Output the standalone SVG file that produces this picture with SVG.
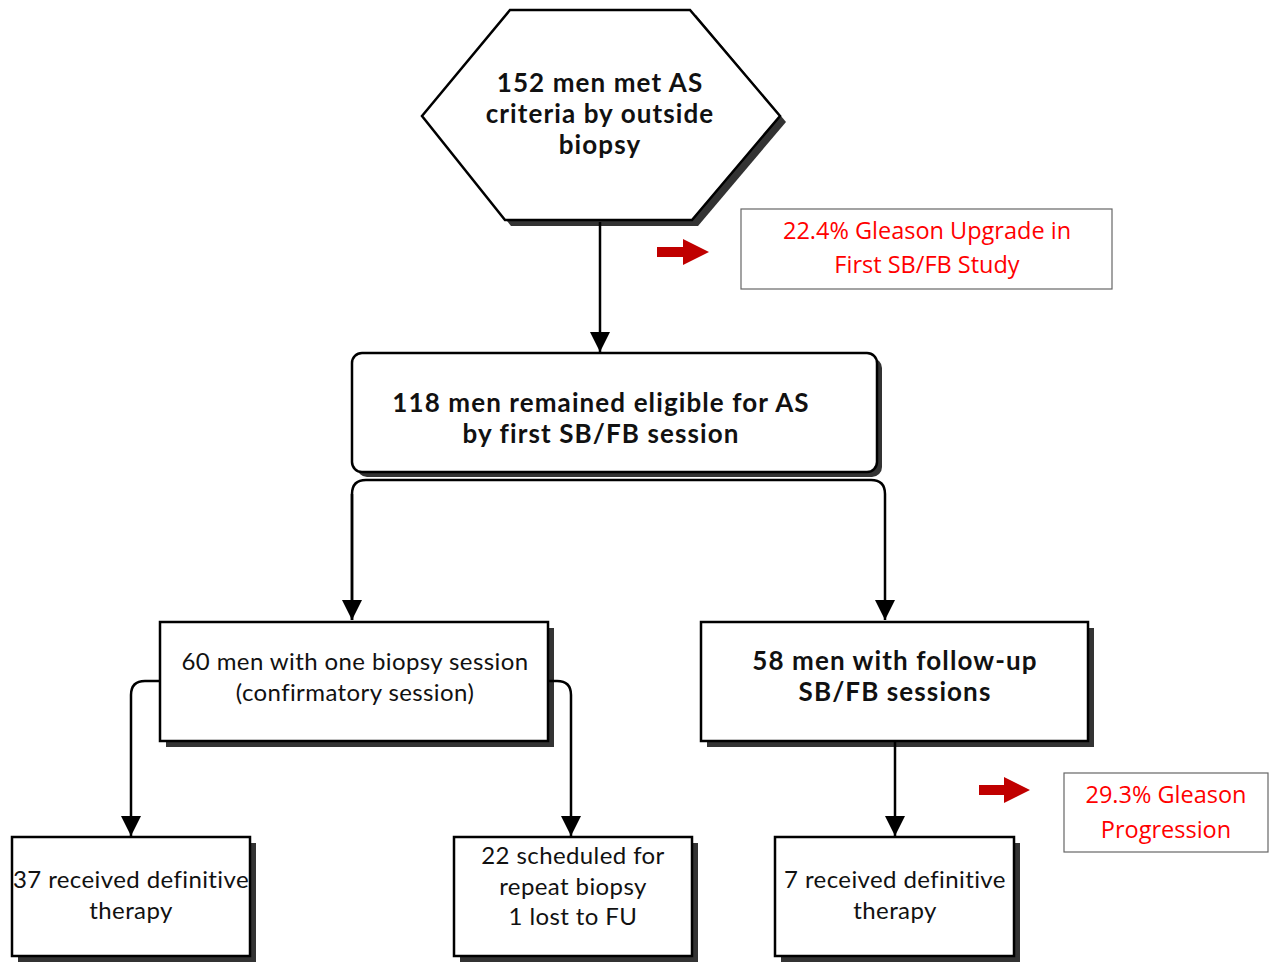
<svg xmlns="http://www.w3.org/2000/svg" width="1274" height="962" viewBox="0 0 1274 962">
<style>
.box{fill:#fff;stroke:#000;stroke-width:2.5}
.sh{fill:#333}
.t{font-family:Lato,"Liberation Sans",sans-serif;font-size:24px;letter-spacing:0.4px;fill:#111;text-anchor:middle}
.b{font-weight:bold;font-size:26px;letter-spacing:1.1px}
.r{font-family:"Open Sans","Liberation Sans",sans-serif;font-size:23.5px;fill:#f00;text-anchor:middle}
.rb{fill:#fff;stroke:#666;stroke-width:1.2}
.c{fill:none;stroke:#000;stroke-width:2.5}
.ra{fill:#c00000}
</style>
<defs>
<marker id="ah" markerUnits="userSpaceOnUse" markerWidth="22" markerHeight="20" refX="20" refY="10" orient="auto" viewBox="0 0 22 20">
<path d="M0 0 L20 10 L0 20 Z" fill="#000"/>
</marker>
</defs>
<rect width="1274" height="962" fill="#fff"/>

<g id="n152">
<polygon class="sh" points="516,15 696,15 786,122 698,226 511,226 427,121"/>
<polygon class="box" points="510,10 690,10 780,116 692,220 505,220 422,116"/>
<text class="t b" x="600" y="92">152 men met AS</text>
<text class="t b" x="600" y="123">criteria by outside</text>
<text class="t b" x="600" y="154">biopsy</text>
</g>

<g id="note1">
<polygon class="ra" points="657,247 683,247 683,239 709,252 683,265 683,257 657,257"/>
<rect class="rb" x="741" y="209" width="371" height="80"/>
<text class="r" x="927" y="239">22.4% Gleason Upgrade in</text>
<text class="r" x="927" y="273">First SB/FB Study</text>
</g>

<g id="n118">
<rect class="sh" x="357" y="358" width="525" height="119" rx="10"/>
<rect class="box" x="352" y="353" width="525" height="119" rx="10"/>
<text class="t b" x="601" y="412">118 men remained eligible for AS</text>
<text class="t b" x="601" y="443">by first SB/FB session</text>
</g>

<g id="n60">
<rect class="sh" x="166" y="628" width="388" height="119"/>
<rect class="box" x="160" y="622" width="388" height="119"/>
<text class="t" x="355" y="670">60 men with one biopsy session</text>
<text class="t" x="355" y="701">(confirmatory session)</text>
</g>

<g id="n58">
<rect class="sh" x="707" y="628" width="387" height="119"/>
<rect class="box" x="701" y="622" width="387" height="119"/>
<text class="t b" x="895" y="670">58 men with follow-up</text>
<text class="t b" x="895" y="701">SB/FB sessions</text>
</g>

<g id="note2">
<polygon class="ra" points="979,785 1004,785 1004,777 1030,790 1004,803 1004,795 979,795"/>
<rect class="rb" x="1064" y="773" width="204" height="79"/>
<text class="r" x="1166" y="803">29.3% Gleason</text>
<text class="r" x="1166" y="838">Progression</text>
</g>

<g id="n37">
<rect class="sh" x="18" y="843" width="238" height="119"/>
<rect class="box" x="12" y="837" width="238" height="119"/>
<text class="t" x="131" y="888">37 received definitive</text>
<text class="t" x="131" y="919">therapy</text>
</g>

<g id="n22">
<rect class="sh" x="460" y="843" width="238" height="119"/>
<rect class="box" x="454" y="837" width="238" height="119"/>
<text class="t" x="573" y="864">22 scheduled for</text>
<text class="t" x="573" y="895">repeat biopsy</text>
<text class="t" x="573" y="925">1 lost to FU</text>
</g>

<g id="n7">
<rect class="sh" x="781" y="843" width="239" height="119"/>
<rect class="box" x="775" y="837" width="239" height="119"/>
<text class="t" x="895" y="888">7 received definitive</text>
<text class="t" x="895" y="919">therapy</text>
</g>

<g id="connectors">
<path class="c" d="M600 222 V352" marker-end="url(#ah)"/>
<path class="c" d="M352 620 V494 Q352 480 366 480 H871 Q885 480 885 494 V620" marker-end="url(#ah)"/>
<path class="c" d="M352 494 V620" marker-end="url(#ah)"/>
<path class="c" d="M160 681 H145 Q131 681 131 695 V836" marker-end="url(#ah)"/>
<path class="c" d="M548 681 H557 Q571 681 571 695 V836" marker-end="url(#ah)"/>
<path class="c" d="M895 741 V836" marker-end="url(#ah)"/>
</g>
</svg>
